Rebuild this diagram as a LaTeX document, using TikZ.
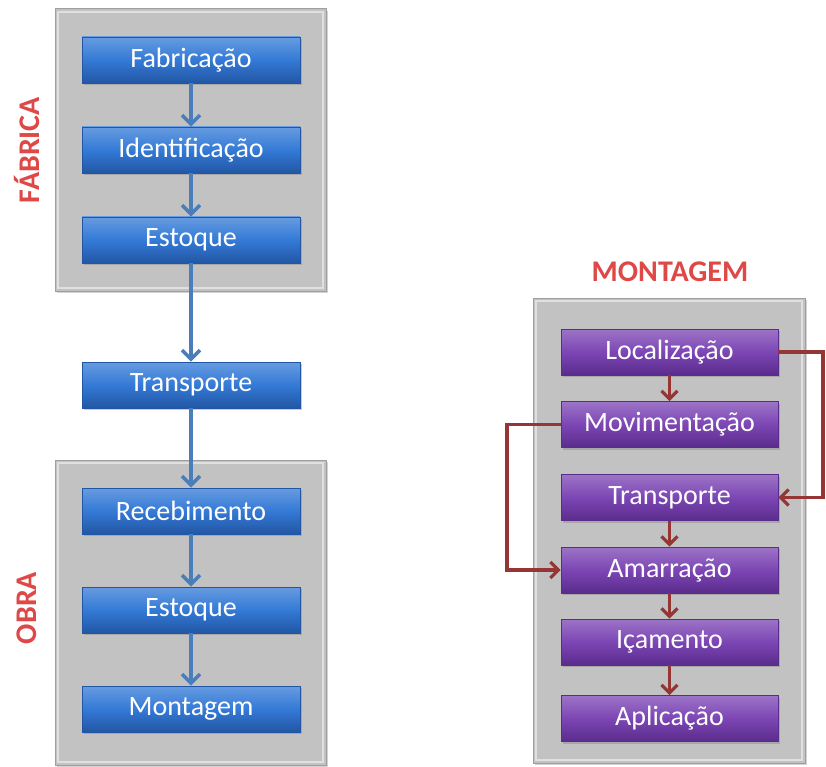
\documentclass[tikz,border=0pt]{standalone}
\usepackage{fontspec}
\setmainfont{Carlito}
\usetikzlibrary{arrows.meta}
\usetikzlibrary{shadows}
\definecolor{panelgray}{RGB}{194,194,194}
\definecolor{boxblue}{RGB}{52,122,214}
\definecolor{boxbluedk}{RGB}{34,86,164}
\definecolor{boxpurple}{RGB}{124,70,180}
\definecolor{boxpurpledk}{RGB}{90,44,140}
\definecolor{lineblue}{RGB}{74,126,187}
\definecolor{linered}{RGB}{150,54,52}
\definecolor{titlered}{RGB}{222,72,70}

\begin{document}
\begin{tikzpicture}[x=1pt,y=-1pt,
  panel/.style={draw=gray!75,line width=1pt,fill=panelgray,
    drop shadow={opacity=0.35,shadow xshift=2pt,shadow yshift=-2pt}},
  bevel/.style={draw=white,opacity=0.5,line width=1.5pt},
  bluebox/.style={draw=boxbluedk,line width=0.8pt,minimum width=218pt,minimum height=46pt,
    top color=boxblue!75!white,bottom color=boxbluedk,middle color=boxblue,text=white,
    font=\fontsize{28}{30}\selectfont,drop shadow={opacity=0.4,shadow xshift=2pt,shadow yshift=-2pt}},
  purplebox/.style={draw=boxpurpledk,line width=0.8pt,minimum width=217pt,minimum height=46pt,
    top color=boxpurple!75!white,bottom color=boxpurpledk,middle color=boxpurple,text=white,
    font=\fontsize{28}{30}\selectfont,drop shadow={opacity=0.4,shadow xshift=2pt,shadow yshift=-2pt}},
  title/.style={text=titlered,font=\fontsize{30}{32}\selectfont\bfseries},
  bluearrow/.style={draw=lineblue,line width=3.5pt,-{Straight Barb[length=9pt,width=18pt]}},
  redarrow/.style={draw=linered,line width=3.2pt,-{Straight Barb[length=8pt,width=16pt]}}]
\useasboundingbox (0,0) rectangle (826,767);

\fill[panel] (55,9) rectangle (326,291); %fabrica
\draw[bevel] (58,12) rectangle (323,288);
\fill[panel] (55,460) rectangle (326,765); %obra
\draw[bevel] (58,463) rectangle (323,762);
\fill[panel] (533,298) rectangle (805,763); %montagem
\draw[bevel] (536,301) rectangle (802,760);

\node[title,rotate=90] (tfab) at (27,150) {FÁBRICA};
\node[title,rotate=90] (tobra) at (27,608) {OBRA};
\node[title] (tmont) at (670,272) {MONTAGEM};

\node[bluebox] (fab) at (191,60) {Fabricação};
\node[bluebox] (ident) at (191,150) {Identificação};
\node[bluebox] (estf) at (191,240) {Estoque};
\node[bluebox] (transp) at (191,385) {Transporte};
\node[bluebox] (receb) at (191,511) {Recebimento};
\node[bluebox] (esto) at (191,610) {Estoque};
\node[bluebox] (mont) at (191,709) {Montagem};

\node[purplebox] (loc) at (669.5,352) {Localização};
\node[purplebox] (mov) at (669.5,424.5) {Movimentação};
\node[purplebox] (transpm) at (669.5,497.5) {Transporte};
\node[purplebox] (amar) at (669.5,570) {Amarração};
\node[purplebox] (ica) at (669.5,642) {Içamento};
\node[purplebox] (apl) at (669.5,718.5) {Aplicação};

\draw[bluearrow] (fab) -- (ident);
\draw[bluearrow] (ident) -- (estf);
\draw[bluearrow] (estf) -- (transp);
\draw[bluearrow] (transp) -- (receb);
\draw[bluearrow] (receb) -- (esto);
\draw[bluearrow] (esto) -- (mont);

\draw[redarrow] (loc) -- (mov);
\draw[redarrow] (transpm) -- (amar);
\draw[redarrow] (amar) -- (ica);
\draw[redarrow] (ica) -- (apl);

\coordinate (locr) at (823,352);
\coordinate (movl) at (507,424.5);
\draw[redarrow] (loc.east) -- (locr) |- (transpm.east); %loop right
\draw[redarrow] (mov.west) -- (movl) |- (amar.west); %loop left
\end{tikzpicture}
\end{document}
